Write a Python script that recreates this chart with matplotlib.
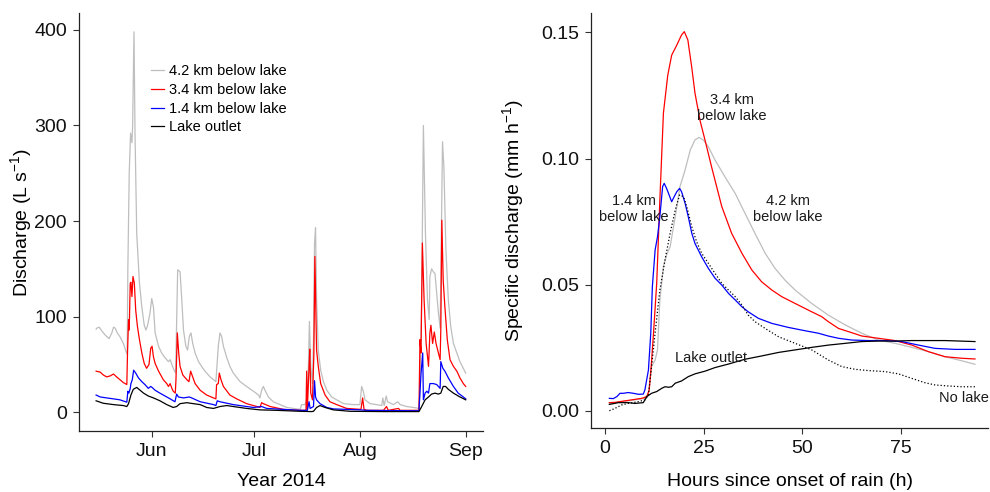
import numpy as np
import pandas as pd
import matplotlib
matplotlib.use("Agg")
import matplotlib.pyplot as plt
import matplotlib.dates as mdates

plt.rcParams["font.family"] = ["Liberation Sans", "DejaVu Sans"]
plt.rcParams["mathtext.fontset"] = "custom"
plt.rcParams["mathtext.rm"] = "Liberation Sans"
plt.rcParams["mathtext.it"] = "Liberation Sans:italic"

# ---------------- Seasonal discharge (days relative to 1 June 2014) ----------------
q42_days = [-16.3, -16.1, -15.4, -14.6, -13.7, -12.5, -11.7, -11.2, -10.7, -10.1, -9.3, -8.3,
            -7.5, -7.2, -7.0, -6.6, -6.2, -5.8, -5.6, -5.2, -4.9, -4.4, -3.6, -2.9, -2.2, -1.7,
            -1.2, -0.5, 0.0, 0.5, 1.0, 2.0, 2.9, 3.9, 4.9, 5.4, 5.9, 6.3, 7.0, 7.6, 8.3, 8.8,
            9.3, 10.0, 10.5, 11.0, 11.5, 12.0, 12.7, 13.7, 14.6, 15.6, 17.1, 18.1, 18.8, 19.5,
            20.0, 20.5, 21.0, 22.0, 22.9, 23.9, 25.9, 27.8, 29.8, 31.3, 31.7, 32.2, 32.7, 33.2,
            34.2, 35.6, 37.6, 39.6, 41.5, 43.5, 43.9, 44.9, 45.4, 45.9, 46.2, 46.6, 47.1, 47.4,
            47.7, 48.0, 48.3, 48.8, 49.5, 50.3, 51.3, 52.7, 54.2, 56.2, 59.1, 61.0, 61.5, 62.0,
            62.5, 64.0, 65.9, 67.4, 67.7, 68.1, 68.7, 69.1, 70.8, 72.1, 72.8, 74.7, 76.7, 78.3,
            78.6, 79.1, 79.6, 80.2, 80.8, 81.3, 81.5, 82.0, 82.5, 83.0, 83.5, 84.0, 84.5, 84.7,
            85.2, 85.6, 86.2, 86.9, 87.6, 88.4, 89.4, 90.3, 91.3, 92.0]
q42_vals = [87, 88, 89, 85, 81, 77, 83, 89, 88, 83, 79, 72,
            63, 61, 150, 250, 292, 282, 300, 398, 292, 187, 135, 110, 91, 86,
            91, 104, 119, 110, 83, 69, 62, 57, 53, 55, 50, 46, 41, 149, 147, 118,
            86, 69, 65, 79, 83, 72, 62, 53, 48, 43, 37, 34, 32, 69,
            83, 79, 69, 57, 48, 41, 32, 27, 22, 18, 15, 23, 27, 23,
            16, 11, 8, 5, 4, 3, 8, 8, 13, 48, 95, 48, 30, 76,
            177, 193, 118, 65, 44, 32, 23, 16, 13, 9, 8, 8, 27, 22,
            13, 9, 8, 7, 15, 7, 17, 11, 8, 11, 8, 6, 5, 4,
            27, 120, 300, 187, 118, 97, 142, 150, 147, 145, 125, 104, 88, 140,
            283, 257, 170, 118, 90, 72, 62, 53, 46, 41]

q34_days = [-16.3, -15.1, -14.2, -13.2, -12.2, -11.2, -10.3, -9.3, -8.3, -7.3, -7.1, -6.8,
            -6.6, -6.3, -6.1, -5.8, -5.5, -5.1, -4.7, -4.2, -3.6, -2.9, -2.2, -1.5, -0.8, -0.3,
            0.1, 0.5, 1.0, 2.0, 3.4, 4.4, 4.9, 5.4, 5.9, 6.3, 6.9, 7.1, 7.5, 7.9, 8.3, 9.1,
            10.3, 10.9, 11.4, 12.0, 12.7, 14.2, 16.1, 18.1, 18.8, 19.0, 19.5, 19.8, 20.3, 21.0,
            22.9, 24.9, 27.8, 30.8, 31.7, 32.2, 32.7, 34.7, 38.6, 43.5, 45.2, 45.4, 45.6, 46.1,
            46.3, 46.6, 47.1, 47.5, 47.8, 48.3, 48.8, 49.5, 50.8, 52.2, 54.2, 57.1, 61.3, 61.8,
            62.2, 63.0, 67.9, 68.8, 69.3, 72.3, 72.8, 78.3, 78.6, 78.9, 79.3, 79.8, 80.4, 81.1,
            81.5, 81.8, 82.3, 82.8, 83.3, 84.0, 84.5, 84.7, 85.0, 85.4, 85.9, 86.6, 87.4, 88.4,
            89.4, 90.3, 91.3, 92.0]
q34_vals = [43, 42, 39, 37, 38, 40, 37, 34, 31, 29, 62, 97,
            86, 135, 136, 121, 142, 135, 107, 90, 76, 62, 51, 46, 50, 67,
            69, 58, 51, 43, 34, 30, 27, 30, 25, 22, 20, 34, 83, 62, 48, 39,
            34, 32, 43, 37, 30, 23, 18, 15, 14, 29, 30, 41, 34, 27,
            18, 14, 9, 6, 5, 10, 9, 6, 3, 2, 2, 43, 3, 48,
            66, 20, 13, 60, 163, 65, 48, 30, 18, 11, 8, 4, 3, 15,
            3, 2, 2, 6, 2, 4, 2, 2, 76, 62, 177, 118, 72, 48,
            83, 91, 72, 84, 72, 62, 55, 86, 201, 138, 110, 76, 55, 48,
            43, 36, 30, 27]

q14_days = [-16.3, -15.1, -13.2, -11.2, -9.3, -7.3, -7.0, -6.7, -6.3, -6.1, -5.7, -5.3,
            -4.7, -3.9, -2.9, -2.0, -1.0, -0.3, 0.1, 1.0, 2.4, 4.4, 4.9, 5.4, 6.8, 7.3,
            7.8, 9.3, 11.0, 11.7, 14.2, 18.1, 18.8, 19.2, 20.0, 23.9, 29.8, 32.2, 33.7, 43.5,
            45.6, 46.1, 46.4, 47.4, 47.7, 48.0, 48.3, 49.3, 51.3, 53.2, 61.0, 63.0, 78.3, 78.9,
            79.4, 79.6, 80.1, 80.6, 81.1, 81.5, 82.5, 83.5, 84.5, 84.7, 85.3, 85.9, 86.9, 88.4,
            89.8, 91.3, 92.0]
q14_vals = [18, 16, 15, 14, 13, 10.5, 22, 20, 25, 30, 34, 44,
            41, 36, 32, 29, 25, 27, 26, 23, 20, 16, 15, 14, 11, 19,
            16, 15, 16, 15, 11, 8, 7, 12, 11, 8, 5, 6, 4, 2,
            2, 11, 4, 6, 33, 16, 13, 9, 5, 3.5, 2.5, 2, 1.5, 40,
            62, 13, 20, 22, 20, 30, 30, 29, 25, 53, 46, 43, 36, 27,
            20, 16, 14]

qout_days = [-16.3, -14.2, -11.2, -8.3, -7.3, -6.8, -6.1, -5.4, -4.4, -3.4, -2.4, -1.0,
             0.5, 2.4, 4.4, 6.3, 7.3, 8.3, 10.3, 12.2, 14.2, 16.1, 18.1, 20.0, 22.0, 23.9,
             27.8, 31.7, 36.6, 43.5, 46.9, 47.4, 48.3, 49.3, 50.8, 53.2, 58.1, 67.9, 78.3, 79.1,
             80.1, 81.1, 82.0, 83.0, 84.0, 84.7, 85.4, 86.1, 86.9, 88.4, 90.3, 92.0]
qout_vals = [12, 9.4, 8, 7, 6, 9, 18, 24, 26, 23, 20, 17,
             15, 12, 8, 5, 6, 9, 10, 9, 8, 5, 4, 6, 7, 6,
             4, 2.5, 2, 1, 0.7, 1, 5, 7, 5, 2.5, 1, 0.7, 0.7, 6,
             13, 16, 19, 20, 19, 20, 27, 27, 24, 20, 16, 13]

season_labels = ["4.2 km below lake", "3.4 km below lake", "1.4 km below lake", "Lake outlet"]
season_colors = ["#BEBEBE", "#FF0000", "#0000FF", "#000000"]

# ---------------- Storm event response (hours since onset of rain) ----------------
ev_red_h = [1.1, 2.5, 5.9, 9.3, 10.6, 11.2, 11.7, 12.3, 13.1, 13.9, 14.8, 15.9, 16.9, 18.2,
            19.4, 20.1, 21.0, 22.0, 22.8, 24.1, 25.4, 27.0, 29.6, 32.1, 34.7, 37.2, 39.7, 42.3,
            44.8, 48.2, 52.4, 54.9, 56.6, 59.2, 62.6, 65.1, 69.3, 73.5, 77.8, 82.0, 86.2, 90.4, 93.8]
ev_red_q = [0.0033, 0.0034, 0.0042, 0.0050, 0.0057, 0.0083, 0.0176, 0.0310, 0.0506, 0.0836,
            0.1180, 0.1330, 0.1410, 0.1450, 0.1490, 0.1503, 0.1470, 0.1360, 0.1260, 0.1150,
            0.1070, 0.0968, 0.0810, 0.0704, 0.0625, 0.0559, 0.0512, 0.0479, 0.0453, 0.0426,
            0.0393, 0.0374, 0.0354, 0.0327, 0.0310, 0.0297, 0.0288, 0.0279, 0.0261, 0.0235,
            0.0215, 0.0209, 0.0206]

ev_gray_h = [1.1, 4.2, 7.6, 10.1, 11.0, 11.8, 12.7, 13.3, 13.9, 14.8, 15.6, 16.5, 17.8, 19.0,
             20.3, 21.6, 22.8, 23.8, 24.9, 26.2, 27.9, 30.4, 33.0, 35.5, 38.0, 40.6, 43.1, 45.6,
             48.2, 52.4, 56.6, 60.9, 65.1, 69.3, 73.5, 77.8, 82.0, 86.2, 90.4, 93.8]
ev_gray_q = [0.0028, 0.0037, 0.0044, 0.0050, 0.0070, 0.0176, 0.0202, 0.0242, 0.0440, 0.0572,
             0.0618, 0.0651, 0.0770, 0.0889, 0.0955, 0.1034, 0.1074, 0.1084, 0.1074, 0.1047,
             0.0994, 0.0928, 0.0862, 0.0783, 0.0704, 0.0625, 0.0565, 0.0519, 0.0479, 0.0426,
             0.0380, 0.0341, 0.0308, 0.0281, 0.0268, 0.0252, 0.0235, 0.0215, 0.0199, 0.0185]

ev_blue_h = [1.1, 2.1, 3.0, 3.8, 4.6, 5.9, 7.2, 8.5, 9.7, 10.1, 11.0, 11.6, 12.0, 12.7, 13.3,
             13.9, 14.6, 15.0, 15.6, 16.1, 16.9, 17.3, 18.2, 18.9, 19.4, 20.3, 21.1, 22.0, 22.8,
             24.5, 26.2, 27.9, 29.6, 31.3, 33.0, 34.7, 36.3, 38.9, 42.3, 46.5, 50.7, 54.1, 56.6,
             59.2, 62.6, 66.8, 71.0, 75.2, 79.5, 83.7, 88.8, 93.8]
ev_blue_q = [0.0050, 0.0049, 0.0057, 0.0070, 0.0070, 0.0073, 0.0070, 0.0066, 0.0067, 0.0083,
             0.0162, 0.0310, 0.0493, 0.0638, 0.0690, 0.0770, 0.0889, 0.0902, 0.0882, 0.0862,
             0.0829, 0.0842, 0.0869, 0.0882, 0.0869, 0.0823, 0.0770, 0.0704, 0.0664, 0.0611,
             0.0565, 0.0526, 0.0499, 0.0466, 0.0440, 0.0413, 0.0393, 0.0367, 0.0347, 0.0331,
             0.0318, 0.0308, 0.0297, 0.0288, 0.0281, 0.0279, 0.0279, 0.0275, 0.0261, 0.0248,
             0.0244, 0.0244]

ev_out_h = [1.1, 3.4, 5.9, 7.6, 9.7, 10.6, 11.8, 13.1, 14.4, 15.2, 16.1, 16.9, 17.8, 19.4,
            21.1, 22.8, 25.4, 27.9, 31.3, 35.5, 39.7, 44.0, 48.2, 52.4, 56.6, 60.9, 65.1, 69.3,
            73.5, 77.8, 82.0, 86.2, 93.8]
ev_out_q = [0.0026, 0.0033, 0.0033, 0.0030, 0.0033, 0.0057, 0.0070, 0.0077, 0.0090, 0.0096,
            0.0094, 0.0096, 0.0110, 0.0119, 0.0136, 0.0147, 0.0158, 0.0172, 0.0186, 0.0205,
            0.0218, 0.0232, 0.0242, 0.0252, 0.0261, 0.0268, 0.0275, 0.0277, 0.0277, 0.0279,
            0.0279, 0.0279, 0.0275]

ev_nolake_h = [1.1, 2.5, 4.2, 5.9, 8.5, 10.1, 11.0, 11.8, 12.7, 13.9, 15.2, 16.5, 17.8, 18.9,
               19.9, 20.7, 22.0, 23.2, 24.5, 26.2, 27.9, 29.6, 31.3, 33.0, 34.7, 36.3, 38.0,
               40.6, 44.0, 48.2, 52.4, 56.6, 60.0, 63.4, 66.8, 71.0, 74.4, 77.8, 81.1, 83.7,
               87.1, 90.4, 93.8]
ev_nolake_q = [0.0001, 0.0010, 0.0024, 0.0030, 0.0037, 0.0044, 0.0063, 0.0176, 0.0310, 0.0479,
               0.0598, 0.0704, 0.0796, 0.0856, 0.0849, 0.0810, 0.0730, 0.0671, 0.0625, 0.0585,
               0.0545, 0.0506, 0.0479, 0.0453, 0.0420, 0.0380, 0.0354, 0.0327, 0.0294, 0.0268,
               0.0242, 0.0202, 0.0176, 0.0165, 0.0160, 0.0156, 0.0147, 0.0129, 0.0112, 0.0103,
               0.0099, 0.0096, 0.0096]

# ---------------- Figure ----------------
fig = plt.figure(figsize=(9.9, 4.92), dpi=100)
axL = fig.add_axes([0.0795, 0.124, 0.4085, 0.8496])
axR = fig.add_axes([0.597, 0.1295, 0.401, 0.8441])

june1 = pd.Timestamp("2014-06-01")


def to_dates(days):
    return june1 + pd.to_timedelta(np.asarray(days, dtype=float), unit="D")


series = [(q42_days, q42_vals), (q34_days, q34_vals), (q14_days, q14_vals), (qout_days, qout_vals)]
for (d, v), lab, col in zip(series, season_labels, season_colors):
    axL.plot(to_dates(d), v, color=col, lw=0.9, label=lab)

axL.set_xlim(june1 - pd.Timedelta(days=21.4), june1 + pd.Timedelta(days=97.1))
axL.set_ylim(-19.6, 417.7)
axL.set_yticks([0, 100, 200, 300, 400])
axL.xaxis.set_major_locator(mdates.MonthLocator(bymonth=[6, 7, 8, 9]))
axL.xaxis.set_major_formatter(mdates.DateFormatter("%b"))
axL.set_xlabel("Year 2014", fontsize=14)
axL.set_ylabel("Discharge (L s$^{-1}$)", fontsize=14)
axL.xaxis.set_label_coords(0.5, -0.101)
axL.yaxis.set_label_coords(-0.110, 0.5)
axL.legend(loc="upper left", bbox_to_anchor=(0.179, 0.878), frameon=False, fontsize=10.5,
           handlelength=0.9, handletextpad=0.35, labelspacing=0.33, borderaxespad=0,
           borderpad=0)

axR.plot(ev_gray_h, ev_gray_q, color="#BEBEBE", lw=0.9)
axR.plot(ev_red_h, ev_red_q, color="#FF0000", lw=0.9)
axR.plot(ev_blue_h, ev_blue_q, color="#0000FF", lw=0.9)
axR.plot(ev_out_h, ev_out_q, color="#000000", lw=0.9)
axR.plot(ev_nolake_h, ev_nolake_q, color="#000000", lw=0.9, ls=":")

axR.set_xlim(-3.55, 97.1)
axR.set_ylim(-0.00686, 0.1577)
axR.set_xticks([0, 25, 50, 75])
axR.set_yticks([0.0, 0.05, 0.10, 0.15])
axR.set_yticklabels(["0.00", "0.05", "0.10", "0.15"])
axR.set_xlabel("Hours since onset of rain (h)", fontsize=14)
axR.set_ylabel("Specific discharge (mm h$^{-1}$)", fontsize=14)
axR.xaxis.set_label_coords(0.5, -0.108)
axR.yaxis.set_label_coords(-0.164, 0.5)

ann = dict(fontsize=10.5, ha="center", va="center", linespacing=1.15, color="#1a1a1a")
axR.text(32.2, 0.120, "3.4 km\nbelow lake", **ann)
axR.text(7.4, 0.0801, "1.4 km\nbelow lake", **ann)
axR.text(46.3, 0.0801, "4.2 km\nbelow lake", **ann)
axR.text(26.9, 0.0211, "Lake outlet", **ann)
axR.text(91.1, 0.0053, "No lake", **ann)

for ax in (axL, axR):
    for s in ("top", "right"):
        ax.spines[s].set_visible(False)
    for s in ("left", "bottom"):
        ax.spines[s].set_linewidth(0.9)
        ax.spines[s].set_color("#222222")
    ax.tick_params(direction="out", length=4, width=0.8, color="#333333",
                   labelsize=14, labelcolor="#111111", pad=4.5)

fig.savefig("out.png", dpi=100)
